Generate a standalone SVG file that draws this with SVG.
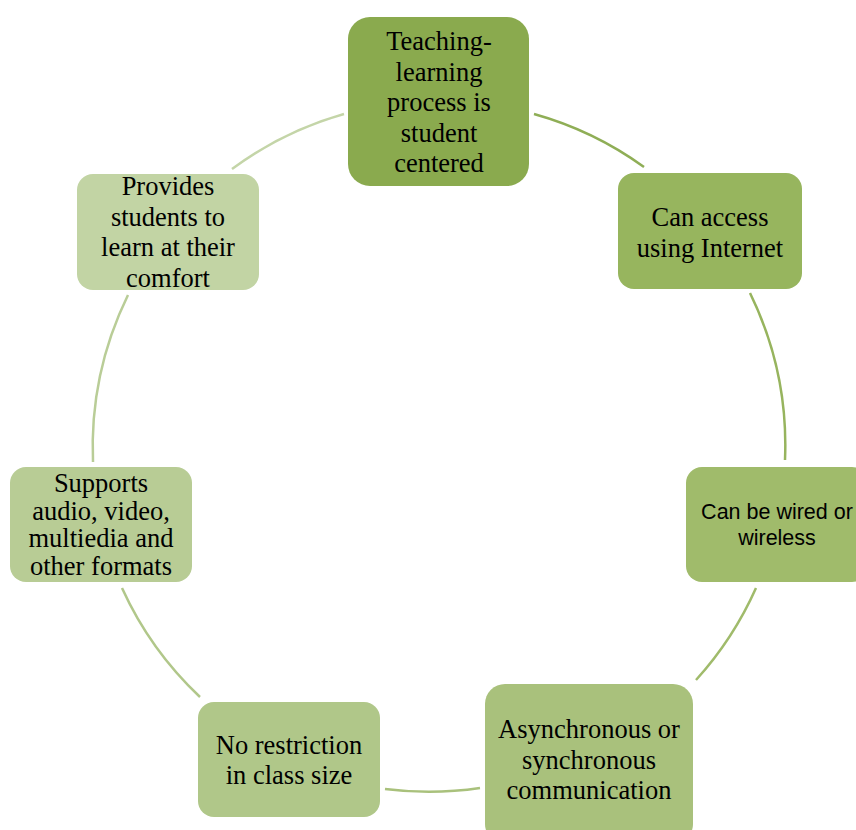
<svg xmlns="http://www.w3.org/2000/svg" width="856" height="830" viewBox="0 0 856 830">
<style>
.t{font-family:"Liberation Serif","Times New Roman",serif;font-size:26.5px;fill:#000;text-anchor:middle}
.s{font-family:"Liberation Sans",Arial,sans-serif;font-size:21.5px;fill:#000;text-anchor:middle}
.c{fill:none;stroke-width:2.5}
</style>
<rect width="856" height="830" fill="#fff"/>
<g id="connectors">
<path class="c" stroke="#8fae56" d="M534,114 A347,347 0 0 1 644,167"/>
<path class="c" stroke="#97b45e" d="M750,293 A347,347 0 0 1 785,460"/>
<path class="c" stroke="#a0bb6b" d="M756,588 A347,347 0 0 1 696,680"/>
<path class="c" stroke="#a9c17c" d="M480,788 A347,347 0 0 1 385,789"/>
<path class="c" stroke="#b1c78a" d="M200,697 A347,347 0 0 1 122,588"/>
<path class="c" stroke="#b9cd97" d="M93,462 A347,347 0 0 1 128,295"/>
<path class="c" stroke="#c4d5a8" d="M232,169 A347,347 0 0 1 344,114"/>
</g>
<g id="n1">
<rect x="348" y="17" width="181" height="169" rx="22" fill="#8aaa4e"/>
<text class="t" x="439" y="50">Teaching-</text>
<text class="t" x="439" y="80.5">learning</text>
<text class="t" x="439" y="111">process is</text>
<text class="t" x="439" y="141.5">student</text>
<text class="t" x="439" y="172">centered</text>
</g>
<g id="n2">
<rect x="618" y="173" width="184" height="116" rx="16" fill="#97b55e"/>
<text class="t" x="710" y="226">Can access</text>
<text class="t" x="710" y="256.5">using Internet</text>
</g>
<g id="n3">
<rect x="686" y="467" width="182" height="115" rx="16" fill="#a0bb6b"/>
<text class="s" x="777" y="519">Can be wired or</text>
<text class="s" x="777" y="545">wireless</text>
</g>
<g id="n4">
<rect x="485" y="684" width="208" height="160" rx="20" fill="#a9c17c"/>
<text class="t" x="589" y="738">Asynchronous or</text>
<text class="t" x="589" y="769">synchronous</text>
<text class="t" x="589" y="799">communication</text>
</g>
<g id="n5">
<rect x="198" y="702" width="182" height="115" rx="16" fill="#b0c789"/>
<text class="t" x="289" y="754">No restriction</text>
<text class="t" x="289" y="784">in class size</text>
</g>
<g id="n6">
<rect x="10" y="467" width="182" height="115" rx="16" fill="#b8cc95"/>
<text class="t" x="101" y="492">Supports</text>
<text class="t" x="101" y="519.5">audio, video,</text>
<text class="t" x="101" y="547">multiedia and</text>
<text class="t" x="101" y="574.5">other formats</text>
</g>
<g id="n7">
<rect x="77" y="174" width="182" height="116" rx="16" fill="#c2d4a4"/>
<text class="t" x="168" y="195">Provides</text>
<text class="t" x="168" y="225.5">students to</text>
<text class="t" x="168" y="256">learn at their</text>
<text class="t" x="168" y="286.5">comfort</text>
</g>
</svg>
